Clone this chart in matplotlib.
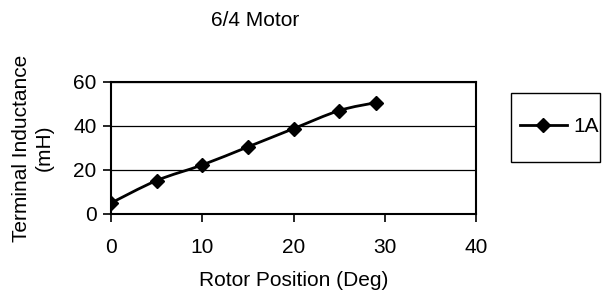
import matplotlib
matplotlib.use("Agg")
import matplotlib.pyplot as plt
import numpy as np
from matplotlib.path import Path
from matplotlib.patches import PathPatch, Rectangle
from matplotlib.lines import Line2D

plt.rcParams["font.family"] = ["Liberation Sans", "DejaVu Sans"]

# data
rotor_pos = [0, 5, 10, 15, 20, 25, 29]
inductance = [5, 15.2, 22.3, 30.5, 38.8, 47, 50.6]
series_label = "1A"
x_ticks = [0, 10, 20, 30, 40]
y_ticks = [0, 20, 40, 60]

FS = 15


def smooth_path(xs, ys):
    # Excel-style smoothed line: cubic Bezier with Catmull-Rom control points
    pts = np.column_stack([xs, ys]).astype(float)
    n = len(pts)
    verts = [pts[0]]
    codes = [Path.MOVETO]
    for i in range(n - 1):
        p0 = pts[i - 1] if i > 0 else pts[i]
        p1 = pts[i]
        p2 = pts[i + 1]
        p3 = pts[i + 2] if i + 2 < n else pts[i + 1]
        c1 = p1 + (p2 - p0) / 6.0
        c2 = p2 - (p3 - p1) / 6.0
        verts += [c1, c2, p2]
        codes += [Path.CURVE4] * 3
    return Path(verts, codes)


fig = plt.figure(figsize=(6.03, 3.02), dpi=100)
ax = fig.add_axes([0.1841, 0.2914, 0.6053, 0.4371])

ax.add_patch(PathPatch(smooth_path(rotor_pos, inductance), fill=False,
                       edgecolor="black", linewidth=2.0, zorder=3))
ax.plot(rotor_pos, inductance, linestyle="none", marker="D",
        markersize=7, color="black", zorder=4)

ax.set_xlim(0, 40)
ax.set_ylim(0, 60)
ax.set_xticks(x_ticks)
ax.set_yticks(y_ticks)
ax.tick_params(direction="out", length=5.5, width=1.2, labelsize=FS,
               colors="black")
ax.tick_params(axis="x", pad=12)
ax.tick_params(axis="y", pad=5)
for s in ax.spines.values():
    s.set_linewidth(1.5)
    s.set_color("black")
ax.yaxis.grid(True, color="black", linewidth=0.9)
ax.set_axisbelow(True)

ax.set_xlabel("Rotor Position (Deg)", fontsize=FS, labelpad=10)
ax.set_ylabel("Terminal Inductance\n(mH)", fontsize=FS, labelpad=14,
              linespacing=1.25)
fig.text(255 / 603, 1 - 20 / 302, "6/4 Motor", ha="center", va="center",
         fontsize=FS)

# legend box
fig.patches.append(Rectangle((511 / 603, 1 - 162 / 302), 89 / 603, 69 / 302,
                             transform=fig.transFigure, fill=False,
                             edgecolor="black", linewidth=1.0))
handle = Line2D([], [], color="black", linewidth=2.0, marker="D",
                markersize=7)
fig.legend([handle], [series_label], loc="center left",
           bbox_to_anchor=(520 / 603, 1 - 127 / 302), frameon=False,
           fontsize=FS, handlelength=2.25, handletextpad=0.3,
           borderaxespad=0, borderpad=0)

fig.savefig("out.png", dpi=100, facecolor="white")
